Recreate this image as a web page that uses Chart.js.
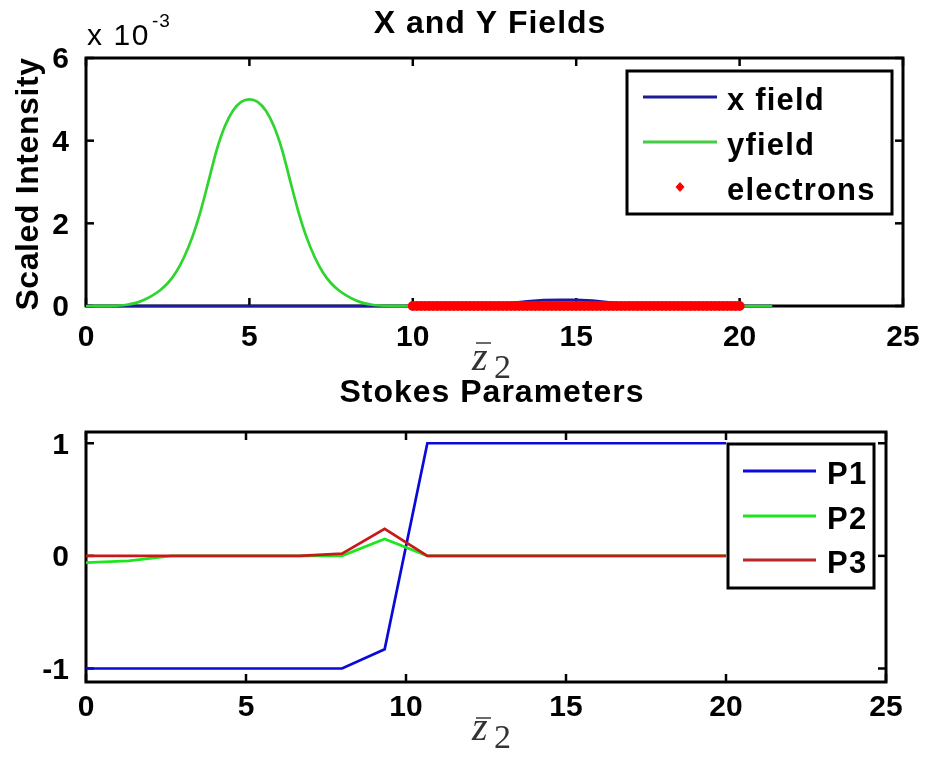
<!DOCTYPE html>
<html><head><meta charset="utf-8">
<script src="https://cdn.jsdelivr.net/npm/chart.js@4.4.1/dist/chart.umd.min.js"></script>
<style>
html,body{margin:0;padding:0;background:#fff;}
#wrap{position:relative;width:926px;height:760px;background:#fff;}
canvas{position:absolute;left:0;}
#c1{top:0;}
#c2{top:380px;}
</style></head><body>
<div id="wrap"><canvas id="c1" width="926" height="380"></canvas><canvas id="c2" width="926" height="380"></canvas></div>
<script>
// ---------- data ----------
const topTitle = 'X and Y Fields';
const bottomTitle = 'Stokes Parameters';
const topYLabel = 'Scaled Intensity';
const topExponent = ['x 10', '-3'];
const xTitleMain = 'z';
const xTitleSub = '2';

const topXTicks = [0, 5, 10, 15, 20, 25];
const topYTicks = [0, 2, 4, 6];
const bottomXTicks = [0, 5, 10, 15, 20, 25];
const bottomYTicks = [-1, 0, 1];

const topLabels = ['x field', 'yfield', 'electrons'];
const bottomLabels = ['P1', 'P2', 'P3'];

// x field (scaled by 1e-3)
const xFieldZ = [0, 12, 12.5, 13, 13.5, 14, 14.5, 15, 15.5, 16, 16.5, 17, 17.5, 21];
const xFieldI = [0, 0, 0.03, 0.07, 0.11, 0.14, 0.15, 0.15, 0.13, 0.09, 0.05, 0.02, 0, 0];

// y field (scaled by 1e-3)
const yFieldZ = [0, 0.25, 0.5, 0.75, 1, 1.25, 1.5, 1.75, 2, 2.25, 2.5, 2.75, 3, 3.25, 3.5, 3.75, 4, 4.25, 4.5, 4.75,
  5, 5.25, 5.5, 5.75, 6, 6.25, 6.5, 6.75, 7, 7.25, 7.5, 7.75, 8, 8.25, 8.5, 8.75, 9, 9.25, 9.5, 9.75, 10, 21];
const yFieldI = [0, 0.001, 0.002, 0.005, 0.012, 0.03, 0.07, 0.14, 0.24, 0.37, 0.55, 0.81, 1.18, 1.66, 2.28, 3.02, 3.78, 4.35, 4.73, 4.94,
  5.00, 4.94, 4.73, 4.35, 3.78, 3.02, 2.28, 1.66, 1.18, 0.81, 0.55, 0.37, 0.24, 0.14, 0.07, 0.03, 0.012, 0.005, 0.002, 0.001, 0, 0];

// electrons (positions along z, all at zero intensity)
const electronZ = [10, 10.125, 10.25, 10.375, 10.5, 10.625, 10.75, 10.875, 11, 11.125, 11.25, 11.375, 11.5, 11.625, 11.75, 11.875,
  12, 12.125, 12.25, 12.375, 12.5, 12.625, 12.75, 12.875, 13, 13.125, 13.25, 13.375, 13.5, 13.625, 13.75, 13.875,
  14, 14.125, 14.25, 14.375, 14.5, 14.625, 14.75, 14.875, 15, 15.125, 15.25, 15.375, 15.5, 15.625, 15.75, 15.875,
  16, 16.125, 16.25, 16.375, 16.5, 16.625, 16.75, 16.875, 17, 17.125, 17.25, 17.375, 17.5, 17.625, 17.75, 17.875,
  18, 18.125, 18.25, 18.375, 18.5, 18.625, 18.75, 18.875, 19, 19.125, 19.25, 19.375, 19.5, 19.625, 19.75, 19.875, 20];
const electronI = [0, 0, 0, 0, 0, 0, 0, 0, 0, 0, 0, 0, 0, 0, 0, 0,
  0, 0, 0, 0, 0, 0, 0, 0, 0, 0, 0, 0, 0, 0, 0, 0,
  0, 0, 0, 0, 0, 0, 0, 0, 0, 0, 0, 0, 0, 0, 0, 0,
  0, 0, 0, 0, 0, 0, 0, 0, 0, 0, 0, 0, 0, 0, 0, 0,
  0, 0, 0, 0, 0, 0, 0, 0, 0, 0, 0, 0, 0, 0, 0, 0, 0];

// Stokes parameters
const stokesZ = [0, 1.333, 2.667, 4, 5.333, 6.667, 8, 9.333, 10.667, 12, 13.333, 14.667, 16, 17.333, 18.667, 20];
const P1 = [-1, -1, -1, -1, -1, -1, -1, -0.83, 1, 1, 1, 1, 1, 1, 1, 1];
const P2 = [-0.06, -0.045, 0, 0, 0, 0, 0, 0.15, 0, 0, 0, 0, 0, 0, 0, 0];
const P3 = [0, 0, 0, 0, 0, 0, 0.02, 0.24, 0, 0, 0, 0, 0, 0, 0, 0];

// ---------- helpers ----------
const SANS = '"Liberation Sans", Arial, sans-serif';
const SERIF = '"Liberation Serif", "Times New Roman", serif';
const pts = (xs, ys) => xs.map((x, i) => ({x: x, y: ys[i]}));

function txt(ctx, s, x, y, font, align, spacing, color) {
  ctx.save();
  ctx.font = font;
  ctx.textAlign = align || 'left';
  ctx.textBaseline = 'alphabetic';
  try { ctx.letterSpacing = (spacing || 0) + 'px'; } catch (e) {}
  ctx.fillStyle = color || '#000';
  ctx.fillText(s, x, y);
  ctx.restore();
}

function line(ctx, x1, y1, x2, y2) {
  ctx.beginPath(); ctx.moveTo(x1, y1); ctx.lineTo(x2, y2); ctx.stroke();
}

function decor(opts) {
  return {
    id: 'decor',
    beforeDatasetsDraw(chart) {
      const ctx = chart.ctx, a = chart.chartArea, sx = chart.scales.x, sy = chart.scales.y;
      ctx.save();
      ctx.strokeStyle = '#000';
      ctx.lineWidth = 3;
      ctx.strokeRect(a.left, a.top, a.right - a.left, a.bottom - a.top);
      ctx.lineWidth = 2.5;
      const tl = 8;
      sx.ticks.forEach(t => {
        const p = sx.getPixelForValue(t.value);
        line(ctx, p, a.bottom, p, a.bottom - tl);
        line(ctx, p, a.top, p, a.top + tl);
      });
      sy.ticks.forEach(t => {
        const p = sy.getPixelForValue(t.value);
        line(ctx, a.left, p, a.left + tl, p);
        line(ctx, a.right, p, a.right - tl, p);
      });
      ctx.restore();
    },
    afterDraw(chart) {
      const ctx = chart.ctx;
      // title
      txt(ctx, opts.title, opts.titleX, opts.titleY, 'bold 32px ' + SANS, 'center', 1, '#000');
      // x axis title  z-bar-2
      const xt = opts.xTitle;
      txt(ctx, xTitleMain, xt.x, xt.y, 'italic 40px ' + SERIF, 'left', 0, '#333');
      ctx.save();
      ctx.strokeStyle = '#444'; ctx.lineWidth = 1.6;
      line(ctx, xt.x + 4, xt.barY, xt.x + 19, xt.barY);
      ctx.restore();
      txt(ctx, xTitleSub, xt.x + 22, xt.y + 8, '34px ' + SERIF, 'left', 0, '#333');
      // y title
      if (opts.yTitle) {
        ctx.save();
        ctx.translate(opts.yTitle.x, opts.yTitle.y);
        ctx.rotate(-Math.PI / 2);
        txt(ctx, opts.yTitle.text, 0, 0, 'bold 32px ' + SANS, 'center', 0.6, '#000');
        ctx.restore();
      }
      // exponent
      if (opts.exponent) {
        txt(ctx, topExponent[0], 87, 45, '30px ' + SANS, 'left', 1.6, '#000');
        txt(ctx, topExponent[1], 152, 27, '19px ' + SANS, 'left', 1, '#000');
      }
      // legend
      const L = opts.legend;
      ctx.save();
      ctx.fillStyle = '#fff';
      ctx.fillRect(L.x1, L.y1, L.x2 - L.x1, L.y2 - L.y1);
      ctx.strokeStyle = '#000'; ctx.lineWidth = 3;
      ctx.strokeRect(L.x1, L.y1, L.x2 - L.x1, L.y2 - L.y1);
      ctx.restore();
      const dsByLabel = {};
      chart.data.datasets.forEach(d => dsByLabel[d.label] = d);
      L.labels.forEach((lab, i) => {
        const y = L.rows[i];
        const d = dsByLabel[lab];
        ctx.save();
        if (d.legendMarker) {
          ctx.fillStyle = d.backgroundColor;
          const cx = (L.lx1 + L.lx2) / 2;
          ctx.beginPath();
          ctx.moveTo(cx, y - 5); ctx.lineTo(cx + 4.5, y); ctx.lineTo(cx, y + 5); ctx.lineTo(cx - 4.5, y);
          ctx.closePath(); ctx.fill();
        } else {
          ctx.strokeStyle = d.legendColor || d.borderColor;
          ctx.lineWidth = 3;
          line(ctx, L.lx1, y, L.lx2, y);
        }
        ctx.restore();
        txt(ctx, lab, L.tx, y + 12.5, 'bold 31px ' + SANS, 'left', 1.2, '#000');
      });
    }
  };
}

function fixedScales(cfg) {
  const tickFont = {family: SANS, size: 30, weight: 'bold'};
  return {
    x: {
      type: 'linear', min: cfg.xmin, max: cfg.xmax,
      grid: {display: false}, border: {display: false},
      ticks: {font: tickFont, color: '#000', padding: cfg.xPad, maxRotation: 0, autoSkip: false},
      afterBuildTicks: s => { s.ticks = cfg.xTicks.map(v => ({value: v})); },
      afterFit: s => { s.height = cfg.xHeight; s.paddingLeft = 0; s.paddingRight = 0; }
    },
    y: {
      type: 'linear', min: cfg.ymin, max: cfg.ymax,
      grid: {display: false}, border: {display: false},
      ticks: {font: tickFont, color: '#000', padding: 9, labelOffset: 2, autoSkip: false},
      afterBuildTicks: s => { s.ticks = cfg.yTicks.map(v => ({value: v})); },
      afterFit: s => { s.width = 86; s.paddingTop = 0; s.paddingBottom = 0; }
    }
  };
}

const common = {
  responsive: false, animation: false, devicePixelRatio: 1,
  plugins: {legend: {display: false}, tooltip: {enabled: false}, title: {display: false}},
  elements: {point: {radius: 0}, line: {tension: 0}}
};

// ---------- top chart ----------
new Chart(document.getElementById('c1'), {
  type: 'scatter',
  data: {
    datasets: [
      {label: topLabels[0], data: pts(xFieldZ, xFieldI), showLine: true, borderColor: '#1a1aa6', legendColor: '#1c1c94', borderWidth: 2.7, pointRadius: 0, order: 3, clip: false},
      {label: topLabels[1], data: pts(yFieldZ, yFieldI), showLine: true, cubicInterpolationMode: 'monotone', borderColor: '#2fd42f', legendColor: '#44cc44', borderWidth: 2.7, pointRadius: 0, order: 2, clip: false},
      {label: topLabels[2], data: pts(electronZ, electronI), showLine: false, borderColor: '#ff0000', backgroundColor: '#ff0000', pointStyle: 'circle', pointRadius: 5, pointBorderWidth: 0, pointBackgroundColor: '#ff0000', order: 1, clip: false, legendMarker: true}
    ]
  },
  options: Object.assign({}, common, {
    layout: {padding: {left: 0, top: 58, right: 23, bottom: 0}},
    scales: fixedScales({xmin: 0, xmax: 25, ymin: 0, ymax: 6, xTicks: topXTicks, yTicks: topYTicks, xPad: 6, xHeight: 74})
  }),
  plugins: [decor({
    title: topTitle, titleX: 490, titleY: 33,
    xTitle: {x: 472, y: 370, barY: 343},
    yTitle: {text: topYLabel, x: 38, y: 184},
    exponent: true,
    legend: {x1: 627, y1: 71, x2: 892, y2: 214, lx1: 643, lx2: 717, tx: 727, rows: [97, 142, 187], labels: topLabels}
  })]
});

// ---------- bottom chart ----------
new Chart(document.getElementById('c2'), {
  type: 'scatter',
  data: {
    datasets: [
      {label: bottomLabels[0], data: pts(stokesZ, P1), showLine: true, borderColor: '#0a0ad8', borderWidth: 2.7, pointRadius: 0, order: 3, clip: false},
      {label: bottomLabels[1], data: pts(stokesZ, P2), showLine: true, borderColor: '#1ee61e', borderWidth: 2.7, pointRadius: 0, order: 2, clip: false},
      {label: bottomLabels[2], data: pts(stokesZ, P3), showLine: true, borderColor: '#c81818', legendColor: '#b82828', borderWidth: 2.7, pointRadius: 0, order: 1, clip: false}
    ]
  },
  options: Object.assign({}, common, {
    layout: {padding: {left: 0, top: 52, right: 40, bottom: 0}},
    scales: fixedScales({xmin: 0, xmax: 25, ymin: -1.12, ymax: 1.1, xTicks: bottomXTicks, yTicks: bottomYTicks, xPad: 0, xHeight: 78})
  }),
  plugins: [decor({
    title: bottomTitle, titleX: 492, titleY: 22,
    xTitle: {x: 472, y: 360, barY: 338},
    yTitle: null,
    exponent: false,
    legend: {x1: 728, y1: 64, x2: 874, y2: 208, lx1: 743, lx2: 816, tx: 827, rows: [91, 136, 180], labels: bottomLabels}
  })]
});
</script>
</body></html>
